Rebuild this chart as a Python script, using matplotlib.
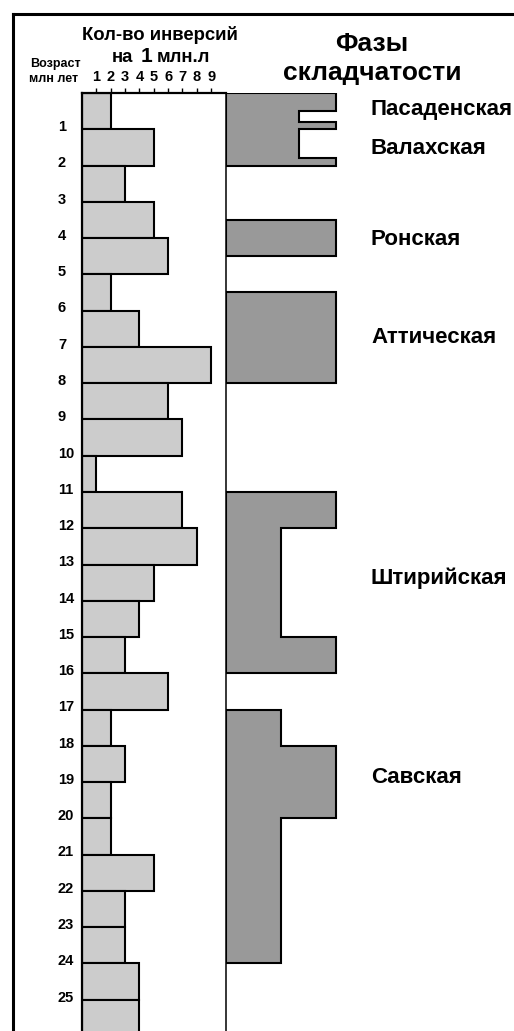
import matplotlib
matplotlib.use("Agg")
import matplotlib.pyplot as plt
from matplotlib.lines import Line2D
import numpy as np

plt.rcParams['font.family'] = ['Liberation Sans', 'DejaVu Sans']
plt.rcParams['font.weight'] = 'bold'

# ---- data ----
age_bins_top = list(range(0, 26))                       # Myr, top of each 1-Myr interval
inversions = [2, 5, 3, 5, 6, 2, 4, 9, 6, 7, 1, 7, 8, 5, 4, 3, 6, 2, 3, 2, 2, 5, 3, 3, 4, 4]
top_ticks = [1, 2, 3, 4, 5, 6, 7, 8, 9]
age_ticks = list(range(1, 26))

phase_names = ["Пасаденская", "Валахская", "Ронская", "Аттическая", "Штирийская", "Савская"]
phase_label_ages = [0.45, 1.52, 4.05, 6.75, 13.37, 18.86]

# step profiles of folding phases: boundaries (ages) and intensity between them
phase1_ages = [0.0, 0.5, 0.8, 1.0, 1.8, 2.0]
phase1_levels = [1.0, 0.66, 1.0, 0.66, 1.0]
phase2_ages = [3.5, 4.5]
phase2_levels = [1.0]
phase3_ages = [5.5, 8.0]
phase3_levels = [1.0]
phase4_ages = [11.0, 12.0, 15.0, 16.0]
phase4_levels = [1.0, 0.5, 1.0]
phase5_ages = [17.0, 18.0, 20.0, 24.0]
phase5_levels = [0.5, 1.0, 0.5]
phases = [(phase1_ages, phase1_levels), (phase2_ages, phase2_levels),
          (phase3_ages, phase3_levels), (phase4_ages, phase4_levels),
          (phase5_ages, phase5_levels)]

W, H = 514, 1031
fig = plt.figure(figsize=(W / 100, H / 100), dpi=100)


def fx(x):
    return x / W


def fy(y):
    return 1 - y / H


y_top_px, y_bot_px = 93, 1031
px_per_myr = 36.27
age_max = (y_bot_px - y_top_px) / px_per_myr

# ---- bar panel ----
x0, x1 = 82, 226
ax = fig.add_axes([fx(x0), fy(y_bot_px), fx(x1) - fx(x0), fy(y_top_px) - fy(y_bot_px)])
ax.barh(np.array(age_bins_top) + 0.5, inversions, height=1.0, color='#cccccc',
        edgecolor='black', linewidth=1.5, zorder=2)
ax.set_xlim(0, (x1 - x0) / 14.35)
ax.set_ylim(age_max, 0)
ax.xaxis.tick_top()
ax.set_xticks(top_ticks)
ax.set_xticklabels([str(t) for t in top_ticks], fontsize=10.5, fontweight='bold')
ax.tick_params(axis='x', direction='out', length=3.5, width=1, pad=3)
ax.set_yticks([])
ax.spines['bottom'].set_visible(False)
ax.spines['left'].set_linewidth(1.6)
ax.spines['top'].set_linewidth(1.6)
ax.spines['right'].set_linewidth(1.1)
for a in age_ticks:
    ax.text(-24 / 14.35, a - 0.06, str(a), ha='left', va='center', fontsize=10.5,
            fontweight='bold', clip_on=False)

# ---- phase panel ----
p0 = 226
pax = fig.add_axes([fx(p0), fy(y_bot_px), 1 - fx(p0), fy(y_top_px) - fy(y_bot_px)])
pax.set_xlim(0, (W - p0) / 110)
pax.set_ylim(age_max, 0)
pax.axis('off')
for ages, levels in phases:
    xs = [0.0]
    ys = [ages[0]]
    for i, lv in enumerate(levels):
        xs += [lv, lv]
        ys += [ages[i], ages[i + 1]]
    xs += [0.0]
    ys += [ages[-1]]
    pax.fill(xs, ys, facecolor='#999999', edgecolor='black', linewidth=1.5, zorder=2)

for name, a in zip(phase_names, phase_label_ages):
    pax.text((371 - p0) / 110, a, name, ha='left', va='center', fontsize=16,
             fontweight='bold')

# ---- headings ----
fig.text(fx(160), fy(35), "Кол-во инверсий", ha='center', va='center', fontsize=13.3,
         fontweight='bold')
fig.text(fx(112), fy(62), "на", ha='left', va='baseline', fontsize=13.3, fontweight='bold')
fig.text(fx(141), fy(62), "1", ha='left', va='baseline', fontsize=15, fontweight='bold')
fig.text(fx(157), fy(62), "млн.л", ha='left', va='baseline', fontsize=13.3, fontweight='bold')
fig.text(fx(55), fy(64.5), "Возраст", ha='center', va='center', fontsize=9, fontweight='bold')
fig.text(fx(54), fy(79), "млн лет", ha='center', va='center', fontsize=9, fontweight='bold')
fig.text(fx(372), fy(44), "Фазы", ha='center', va='center', fontsize=19, fontweight='bold')
fig.text(fx(372), fy(73), "складчатости", ha='center', va='center', fontsize=19,
         fontweight='bold')

# ---- outer frame ----
fig.add_artist(Line2D([fx(13), fx(13)], [fy(14), 0], color='black', lw=2.2,
                      solid_capstyle='projecting'))
fig.add_artist(Line2D([fx(13), 1], [fy(14), fy(14)], color='black', lw=2.2,
                      solid_capstyle='projecting'))

fig.savefig("out.png", dpi=100)
